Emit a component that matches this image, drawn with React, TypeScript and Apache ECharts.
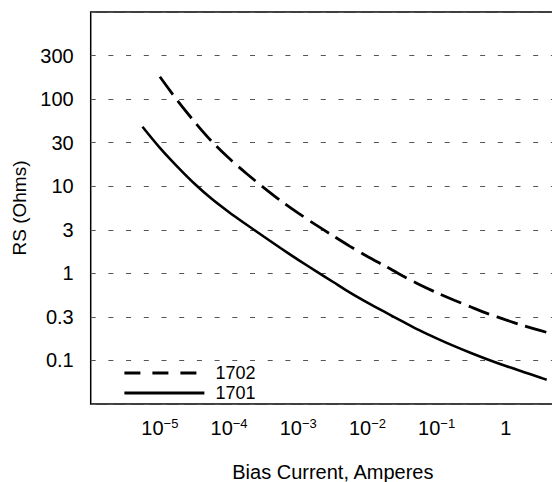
import React, { useEffect, useRef } from "react";
import * as echarts from "echarts";

// Bias current (A) and series resistance RS (Ohms)
const current1701 = [
  5.6e-6, 1e-5, 1.8e-5, 3.2e-5, 5.6e-5, 1e-4, 1.8e-4, 3.2e-4, 5.6e-4, 1e-3, 1.8e-3, 3.2e-3, 5.6e-3,
  1e-2, 1.8e-2, 3.2e-2, 5.6e-2, 0.1, 0.18, 0.32, 0.56, 1, 1.8, 3.2, 3.9,
];
const rs1701 = [
  48.2, 27.6, 16.7, 10.6, 7.17, 5.03, 3.61, 2.63, 1.94, 1.43, 1.06, 0.795, 0.601,
  0.461, 0.358, 0.281, 0.223, 0.1795, 0.146, 0.121, 0.102, 0.0864, 0.0738, 0.0633, 0.06,
];

const current1702 = [
  1e-5, 1.8e-5, 3.2e-5, 5.6e-5, 1e-4, 1.8e-4, 3.2e-4, 5.6e-4, 1e-3, 1.8e-3, 3.2e-3, 5.6e-3,
  1e-2, 1.8e-2, 3.2e-2, 5.6e-2, 0.1, 0.18, 0.32, 0.56, 1, 1.8, 3.2, 5.6,
];
const rs1702 = [
  180.7, 95.9, 54.4, 32.8, 20.9, 13.9, 9.59, 6.79, 4.9, 3.6, 2.69, 2.04,
  1.56, 1.21, 0.939, 0.744, 0.6, 0.491, 0.408, 0.343, 0.292, 0.251, 0.2195, 0.1945,
];

// Y tick labels (half-decade positions starting at 10^-1)
const yTickLabels = ["0.1", "0.3", "1", "3", "10", "30", "100", "300"];
const yTickFirstLog = -1;

const seriesNames = ["1702", "1701"];

const FONT = "'Liberation Sans', Arial, Helvetica, sans-serif";

function toLog(xs: number[], ys: number[]) {
  return xs.map((x, i) => [Math.log10(x), Math.log10(ys[i])]);
}

export default function App() {
  const ref = useRef<HTMLDivElement>(null);
  useEffect(() => {
    const chart = echarts.init(ref.current!, null, { renderer: "svg" });
    const option: any = {
      animation: false,
      backgroundColor: "#fff",
      grid: {
        left: 90.7,
        top: 12,
        right: -23,
        bottom: 78,
        show: true,
        borderColor: "#000",
        borderWidth: 1.5,
        backgroundColor: "transparent",
        containLabel: false,
        outerBoundsMode: "none",
      },
      legend: {
        orient: "vertical",
        left: 123,
        top: 364,
        padding: 0,
        itemWidth: 80,
        itemHeight: 14,
        itemGap: 2,
        selectedMode: false,
        lineStyle: { width: 2.8 },
        itemStyle: { opacity: 0 },
        textStyle: { fontSize: 18, color: "#000", fontFamily: FONT, padding: [0, 0, 0, 6] },
        data: [
          { name: seriesNames[0], lineStyle: { type: [16, 12], width: 2.8 } },
          { name: seriesNames[1] },
        ],
      },
      xAxis: {
        type: "value",
        min: -6,
        max: 1,
        interval: 1,
        axisLine: { show: false },
        axisTick: { show: false },
        splitLine: { show: false },
        axisLabel: {
          margin: 13,
          showMinLabel: false,
          showMaxLabel: false,
          fontSize: 20,
          color: "#000",
          fontFamily: FONT,
          formatter: (v: number) => {
            const p = Math.round(v);
            if (p === 0) return "{b|1}";
            return `{b|10}{s|\u2212${Math.abs(p)}}`;
          },
          rich: {
            b: { fontSize: 20, fontFamily: FONT, color: "#000", lineHeight: 22 },
            s: { fontSize: 13, fontFamily: FONT, color: "#000", lineHeight: 13, verticalAlign: "top" },
          },
        },
        name: "Bias Current, Amperes",
        nameLocation: "middle",
        nameGap: 58,
        nameTextStyle: { fontSize: 20, color: "#000", fontFamily: FONT },
      },
      yAxis: {
        type: "value",
        min: -1.5,
        max: 3,
        interval: 0.5,
        axisLine: { show: false },
        axisTick: { show: false },
        splitLine: {
          show: true,
          lineStyle: { color: "#555", width: 1, type: [5, 12.7] },
        },
        axisLabel: {
          margin: 17,
          fontSize: 20,
          color: "#000",
          fontFamily: FONT,
          formatter: (v: number) => {
            const i = Math.round((v - yTickFirstLog) / 0.5);
            return yTickLabels[i] ?? "";
          },
        },
        name: "RS (Ohms)",
        nameLocation: "middle",
        nameGap: 57,
        nameTextStyle: { fontSize: 19, color: "#000", fontFamily: FONT },
      },
      series: [
        {
          name: seriesNames[0],
          type: "line",
          data: toLog(current1702, rs1702),
          symbol: "none",
          smooth: 0.3,
          lineStyle: { color: "#000", width: 2.8, type: [22, 8] },
          itemStyle: { color: "#000" },
        },
        {
          name: seriesNames[1],
          type: "line",
          data: toLog(current1701, rs1701),
          symbol: "none",
          smooth: 0.3,
          lineStyle: { color: "#000", width: 2.6, type: "solid" },
          itemStyle: { color: "#000" },
        },
      ],
    };
    chart.setOption(option);
    return () => chart.dispose();
  }, []);
  return (
    <div
      ref={ref}
      style={{ position: "absolute", left: 0, top: 0, width: 552, height: 482, background: "#fff" }}
    />
  );
}
